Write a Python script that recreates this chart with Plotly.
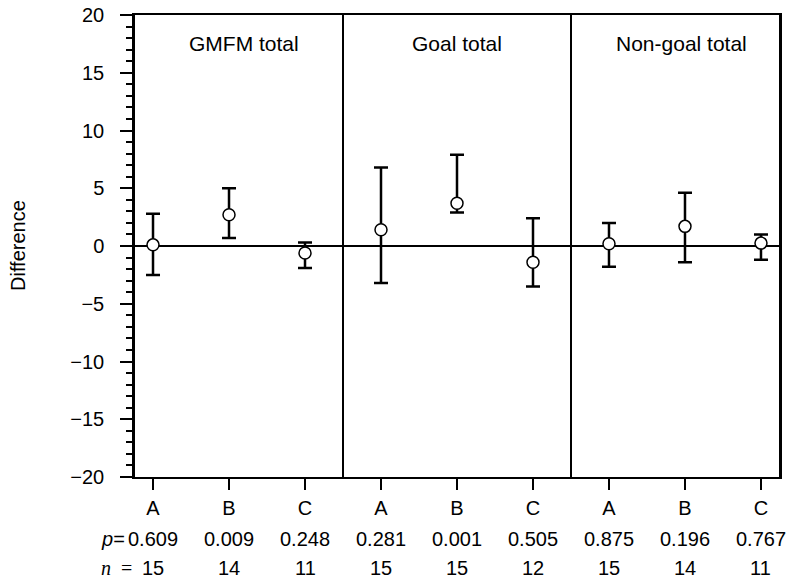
import plotly.graph_objects as go

# ---- data ----
groups = ["GMFM total", "Goal total", "Non-goal total"]
categories = ["A", "B", "C", "A", "B", "C", "A", "B", "C"]
means = [0.1, 2.7, -0.6, 1.4, 3.7, -1.4, 0.2, 1.7, 0.25]
upper = [2.8, 5.0, 0.3, 6.8, 7.9, 2.4, 2.0, 4.6, 1.0]
lower = [-2.5, 0.7, -1.9, -3.2, 2.9, -3.5, -1.8, -1.4, -1.2]
p_values = ["0.609", "0.009", "0.248", "0.281", "0.001", "0.505", "0.875", "0.196", "0.767"]
n_values = ["15", "14", "11", "15", "15", "12", "15", "14", "11"]
y_ticks = [-20, -15, -10, -5, 0, 5, 10, 15, 20]

FONT = "Liberation Sans, Arial, sans-serif"
FS = 20
FS_TITLE = 21

xpos = list(range(1, len(categories) + 1))
err_plus = [u - m for u, m in zip(upper, means)]
err_minus = [m - l for m, l in zip(means, lower)]

fig = go.Figure()
fig.add_trace(go.Scatter(
    x=xpos, y=means, mode="markers",
    marker=dict(symbol="circle", size=12, color="white",
                line=dict(color="black", width=1.5)),
    error_y=dict(type="data", symmetric=False, array=err_plus,
                 arrayminus=err_minus, color="black", thickness=2.5, width=7),
    showlegend=False, hoverinfo="skip",
))

# panel dividers
for xd in [3.5, 6.5]:
    fig.add_shape(type="line", xref="x", yref="y", x0=xd, x1=xd, y0=-20, y1=20,
                  line=dict(color="black", width=2), layer="above")

# panel titles
title_x = [2.2, 5.0, 7.95]
for gx, g in zip(title_x, groups):
    fig.add_annotation(x=gx, y=17.5, xref="x", yref="y", text=g, showarrow=False,
                       font=dict(family=FONT, size=FS_TITLE, color="black"),
                       xanchor="center", yanchor="middle")

# p and n rows
plot_h = 462
plot_w = 644
y_p = (477 - 539) / plot_h
y_n = (477 - 568) / plot_h
for x, pv, nv in zip(xpos, p_values, n_values):
    fig.add_annotation(x=x, y=y_p, xref="x", yref="paper", text=pv, showarrow=False,
                       font=dict(family=FONT, size=FS, color="black"),
                       xanchor="center", yanchor="middle")
    fig.add_annotation(x=x, y=y_n, xref="x", yref="paper", text=nv, showarrow=False,
                       font=dict(family=FONT, size=FS, color="black"),
                       xanchor="center", yanchor="middle")

fig.add_annotation(x=(99 - 135) / plot_w, y=y_p, xref="paper", yref="paper",
                   text="<i>p</i>=", showarrow=False,
                   font=dict(family=FONT, size=FS, color="black"),
                   xanchor="left", yanchor="middle")
fig.add_annotation(x=(99 - 135) / plot_w, y=y_n, xref="paper", yref="paper",
                   text="<i>n</i>&nbsp;&nbsp;=", showarrow=False,
                   font=dict(family="Liberation Serif, Times New Roman, serif", size=FS, color="black"),
                   xanchor="left", yanchor="middle")

# y label
fig.add_annotation(x=(18 - 135) / plot_w, y=0.5, xref="paper", yref="paper",
                   text="Difference", textangle=-90, showarrow=False,
                   font=dict(family=FONT, size=FS, color="black"),
                   xanchor="center", yanchor="middle")

fig.update_xaxes(
    range=[0.763, 9.237], tickvals=xpos, ticktext=categories,
    ticks="outside", ticklen=11, tickwidth=2, tickcolor="black",
    showline=True, linecolor="black", linewidth=2, mirror=True,
    showgrid=False, zeroline=False, ticklabelstandoff=1, automargin=False,
    tickfont=dict(family=FONT, size=FS, color="black"),
)
fig.update_yaxes(
    range=[-20, 20], tickvals=y_ticks,
    ticks="outside", ticklen=12, tickwidth=2, tickcolor="black",
    minor=dict(dtick=1, ticks="outside", ticklen=6, tickwidth=1.5, tickcolor="black"),
    showline=True, linecolor="black", linewidth=2.5, mirror=True,
    showgrid=False, zeroline=True, zerolinecolor="black", zerolinewidth=2,
    ticklabelstandoff=12, automargin=False, ticklabeloverflow="allow",
    tickfont=dict(family=FONT, size=FS, color="black"),
)

fig.update_layout(
    width=792, height=579,
    margin=dict(l=135, r=13, t=15, b=102),
    paper_bgcolor="white", plot_bgcolor="white",
    font=dict(family=FONT, size=FS, color="black"),
)

# remove the default 8px page margin so the figure fills the window exactly
fig.write_html("out.html", config={"displayModeBar": False},
               post_script="document.body.style.margin='0px';")
